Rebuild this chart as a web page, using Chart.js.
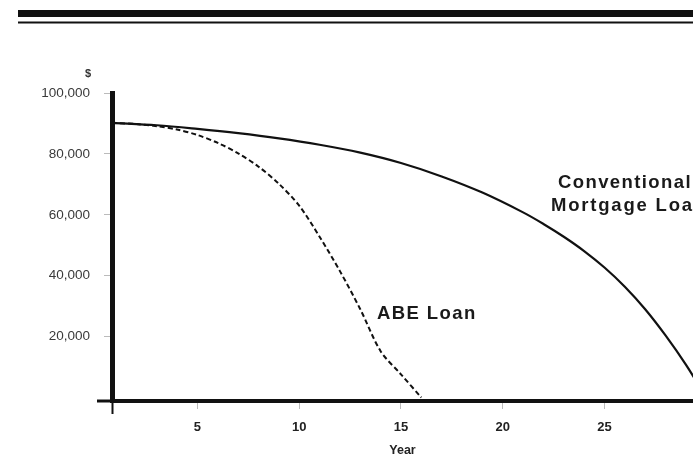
<!DOCTYPE html>
<html><head><meta charset="utf-8">
<script src="https://cdn.jsdelivr.net/npm/chart.js@4/dist/chart.umd.min.js"></script>
<style>html,body{margin:0;padding:0;background:#fff;overflow:hidden}canvas{display:block}</style>
</head><body>
<canvas id="c" width="693" height="455"></canvas>
<script>
// Data (balance in $ by year)
const conventionalYears   = [0.8, 3, 5, 7, 9, 11, 13, 15, 17, 19, 21, 22, 23, 24, 25, 26, 27, 28, 29, 30];
const conventionalBalance = [90200, 89400, 88200, 86800, 85100, 83000, 80400, 77000, 72600, 67300, 60800, 57000, 52800, 48100, 42700, 36400, 29000, 20400, 10800, 0];
const abeYears   = [0.8, 2, 3, 4, 5, 6, 7, 8, 9, 10, 11, 12, 13, 14, 15, 16];
const abeBalance = [90200, 89800, 89100, 88000, 86200, 83600, 80200, 75800, 70200, 63000, 52800, 41500, 29000, 15200, 7600, 0];
const yTickValues = [20000, 40000, 60000, 80000, 100000];
const xTickValues = [5, 10, 15, 20, 25];
const seriesLabels = ['Conventional Mortgage Loan', 'ABE Loan'];

const FAMILY = "'Liberation Sans', Arial, Helvetica, sans-serif";

const decor = {
  id: 'decor',
  beforeDraw(chart) {
    const c = chart.ctx;
    c.save();
    c.fillStyle = '#fff';
    c.fillRect(0, 0, chart.width, chart.height);
    c.fillStyle = '#111';
    c.fillRect(18, 10, chart.width - 18, 7);
    c.fillRect(18, 21.5, chart.width - 18, 2);
    c.restore();
  },
  afterDraw(chart) {
    const {ctx: c, chartArea: a, scales: {y}} = chart;
    c.save();
    c.strokeStyle = '#111';
    c.lineWidth = 3;
    c.beginPath(); c.moveTo(97, a.bottom); c.lineTo(a.left, a.bottom); c.stroke();
    c.lineWidth = 2;
    c.beginPath(); c.moveTo(a.left + 0.5, a.bottom); c.lineTo(a.left + 0.5, a.bottom + 13); c.stroke();
    c.fillStyle = '#333';
    c.font = 'bold 11px ' + FAMILY;
    c.textAlign = 'center'; c.textBaseline = 'middle';
    c.fillText('$', 88, y.getPixelForValue(100000) - 19);
    c.fillStyle = '#1a1a1a';
    c.font = 'bold 18.5px ' + FAMILY;
    c.textAlign = 'left'; c.textBaseline = 'alphabetic';
    c.letterSpacing = '1.4px';
    c.fillText('Conventional', 558, 188);
    c.fillText('ABE Loan', 377, 319);
    c.letterSpacing = '1.8px';
    c.fillText('Mortgage Loan', 551, 211);
    c.restore();
  }
};

new Chart(document.getElementById('c'), {
  type: 'line',
  data: {
    datasets: [
      {
        label: seriesLabels[0],
        data: conventionalYears.map((x, i) => ({x, y: conventionalBalance[i]})),
        borderColor: '#111', borderWidth: 2.2, pointRadius: 0,
        tension: 0.35, fill: false
      },
      {
        label: seriesLabels[1],
        data: abeYears.map((x, i) => ({x, y: abeBalance[i]})),
        borderColor: '#111', borderWidth: 2, borderDash: [5, 3], pointRadius: 0,
        tension: 0.3, fill: false
      }
    ]
  },
  options: {
    responsive: false, animation: false, devicePixelRatio: 1,
    layout: {padding: {top: 93, left: 0, right: 0, bottom: 0}},
    plugins: {legend: {display: false}, tooltip: {enabled: false}},
    scales: {
      x: {
        type: 'linear', min: 0.8, max: 29.35,
        afterFit(s) { s.height = 54; },
        afterBuildTicks(s) { s.ticks = xTickValues.map(v => ({value: v})); },
        grid: {drawOnChartArea: false, drawTicks: true, tickLength: 8, tickColor: '#bbb', lineWidth: 1},
        border: {display: true, width: 4, color: '#111'},
        ticks: {padding: 11, color: '#222', maxRotation: 0, autoSkip: false,
                font: {family: FAMILY, size: 13, weight: 'bold'}},
        title: {display: true, text: 'Year', color: '#222', padding: {top: 0, bottom: -3},
                font: {family: FAMILY, size: 12.5, weight: 'bold'}}
      },
      y: {
        type: 'linear', min: -1150, max: 100000,
        afterFit(s) { s.width = 112; },
        afterBuildTicks(s) { s.ticks = yTickValues.map(v => ({value: v})); },
        grid: {drawOnChartArea: false, drawTicks: true, tickLength: 8, tickColor: '#bbb', lineWidth: 1},
        border: {display: true, width: 5, color: '#111'},
        ticks: {padding: 14, color: '#3a3a3a', autoSkip: false,
                font: {family: FAMILY, size: 13.5},
                callback: v => v.toLocaleString('en-US')}
      }
    }
  },
  plugins: [decor]
});
</script>
</body></html>
